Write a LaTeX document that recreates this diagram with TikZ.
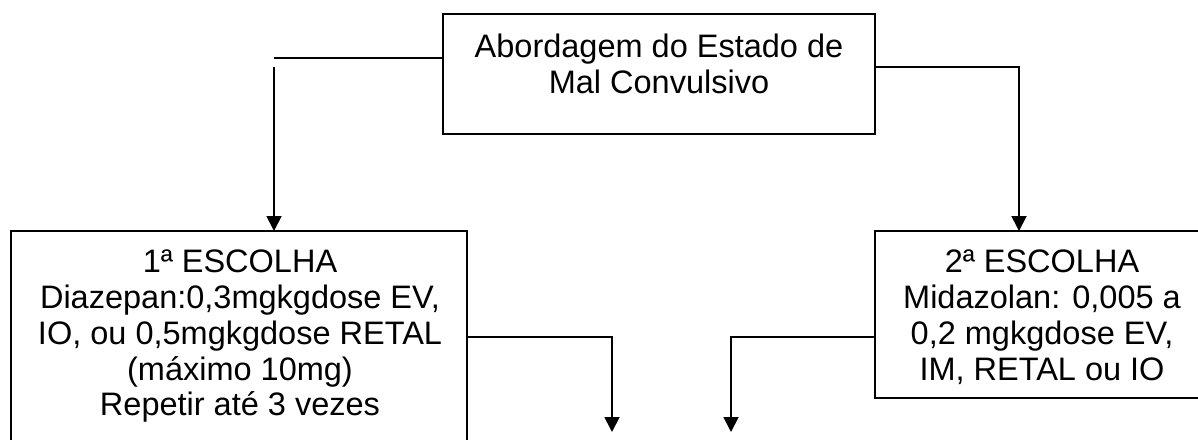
\documentclass[tikz,border=0pt]{standalone}
\usepackage{fontspec}
\setmainfont{Liberation Sans}
\usetikzlibrary{arrows.meta}
\begin{document}
\begin{tikzpicture}[x=1pt,y=-1pt,
  box/.style={draw,line width=1.8pt,inner sep=0pt,outer sep=0pt},
  txt/.style={font=\fontsize{32.5}{35.7}\selectfont,align=center,inner sep=0pt,anchor=north},
  conn/.style={line width=1.8pt},
  arr/.style={conn,-{Triangle[length=15pt,width=15pt]}}]
\useasboundingbox (0,0) rectangle (1198,439);
\clip (0,0) rectangle (1198,439);
\fill[white] (0,0) rectangle (1198,439);
% boxes
\node[box,minimum width=432pt,minimum height=120pt] (top) at (659,74) {};
\node[txt] (toptxt) at (659,34) {Abordagem do Estado de\\Mal Convulsivo};
\node[box,minimum width=456pt,minimum height=240pt] (first) at (239,351) {};
\node[txt] (firsttxt) at (240,250) {1ª ESCOLHA\\Diazepan:0,3mgkgdose EV,\\IO, ou 0,5mgkgdose RETAL\\(máximo 10mg)\\Repetir até 3 vezes};
\node[box,minimum width=335pt,minimum height=167pt] (second) at (1042.5,314.5) {};
\node[txt] (secondtxt) at (1042,250) {2ª ESCOLHA\\Midazolan: 0,005 a\\0,2 mgkgdose EV,\\IM, RETAL ou IO};
% connectors
\coordinate (lk) at (274,58);
\coordinate (ls) at (274,67);
\draw[conn] (top.west |- lk) -- (lk);
\draw[arr] (ls) -- (first.north -| ls);
\coordinate (rk) at (1019,67);
\draw[arr] (top.east |- rk) -| (second.north -| rk);
\coordinate (e1) at (612,432);
\coordinate (e2) at (731,432);
\coordinate (h) at (0,337);
\draw[arr] (first.east |- h) -| (e1);
\draw[arr] (second.west |- h) -| (e2);
\end{tikzpicture}
\end{document}
